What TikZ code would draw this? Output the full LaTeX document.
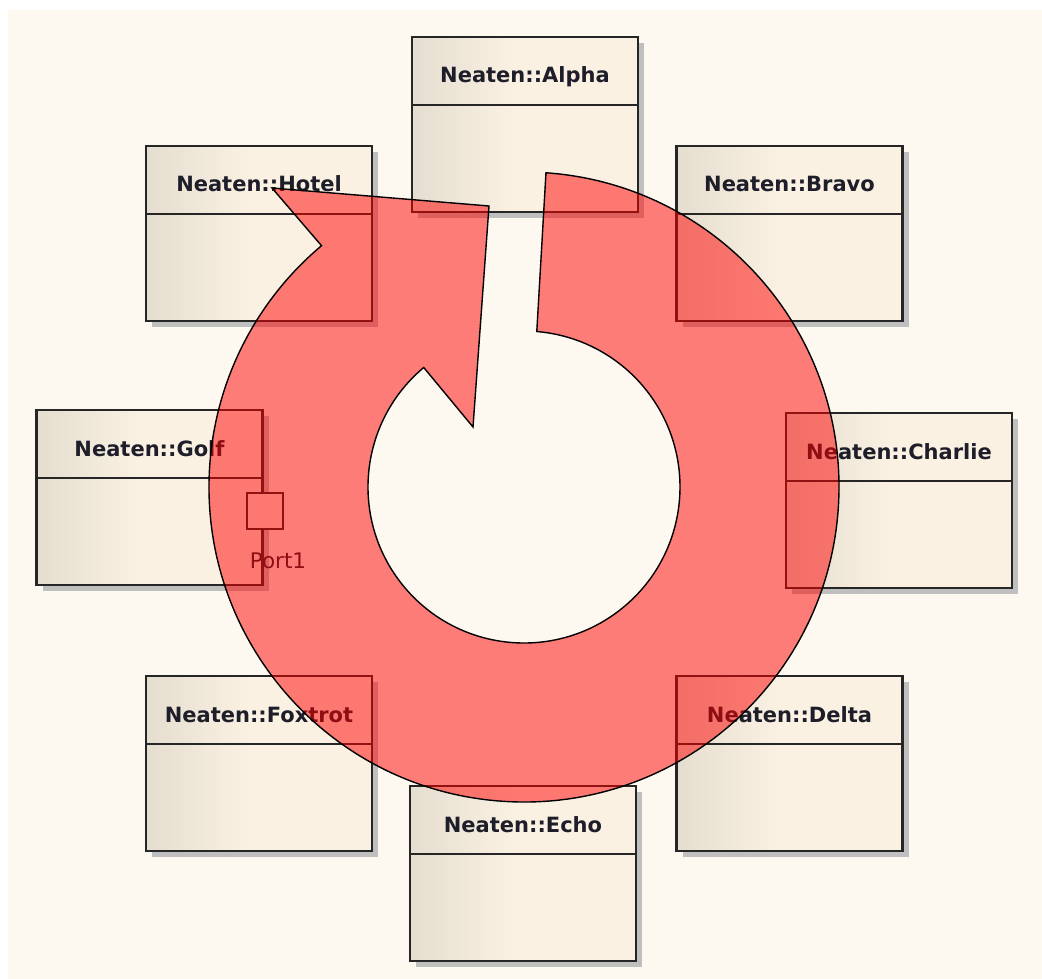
\documentclass[tikz,border=0pt]{standalone}
\usepackage{fontspec}
\setsansfont{DejaVu Sans}
\usetikzlibrary{shadows}
\definecolor{bg}{HTML}{FDF9F1}
\definecolor{boxL}{HTML}{E5DDCF}
\definecolor{boxR}{HTML}{FAF1E3}
\definecolor{txt}{HTML}{1E1E2A}
\definecolor{shd}{HTML}{BFBFBF}
\pgfdeclarehorizontalshading{boxshade}{100bp}{color(0bp)=(boxL); color(25bp)=(boxL); color(48bp)=(boxR); color(100bp)=(boxR)}
\tikzset{
  umlbox/.style={draw=black!85, line width=2.4pt, shade, shading=boxshade,
    minimum width=226pt, minimum height=175pt, inner sep=0pt, outer sep=0pt,
    general shadow={fill=shd, shadow xshift=6pt, shadow yshift=-6pt}},
  title/.style={font=\sffamily\bfseries\fontsize{21}{25}\selectfont, text=txt, anchor=base, inner sep=0pt},
  divider/.style={draw=black!85, line width=2.4pt},
  portbox/.style={draw=black!85, line width=2pt, fill=boxR, minimum size=36pt, inner sep=0pt, outer sep=0pt},
  portlabel/.style={font=\sffamily\fontsize{21.5}{25}\selectfont, text=txt, anchor=base, inner sep=0pt},
  ring/.style={draw=black, line width=1.4pt, fill=red, fill opacity=0.5, draw opacity=1}
}
\newcommand\umlbox[4]{%
  \node[umlbox] (#1) at (#2,{-(#3+87.5)}) {};
  \draw[divider] ([yshift=-68pt]#1.north west) -- ([yshift=-68pt]#1.north east);
  \node[title] (#1-title) at (#2,{-(#3+46)}) {#4};
}
\begin{document}
\begin{tikzpicture}[x=1pt,y=1pt]
\fill[white] (0,0) rectangle (1042,-979);
\fill[bg] (8,-10) rectangle (1042,-979);
\useasboundingbox (0,0) rectangle (1042,-979);

\umlbox{alpha}{525}{37}{Neaten::Alpha}
\umlbox{hotel}{259}{146}{Neaten::Hotel}
\umlbox{bravo}{789.5}{146}{Neaten::Bravo}
\umlbox{golf}{149.5}{410}{Neaten::Golf}
\umlbox{charlie}{899}{413}{Neaten::Charlie}
\umlbox{foxtrot}{259}{676}{Neaten::Foxtrot}
\umlbox{delta}{789.5}{676}{Neaten::Delta}
\umlbox{echo}{523}{786}{Neaten::Echo}

\node[portbox] (port1) at (265,-511) {};
\node[portlabel] (port1-label) at (278,-568) {Port1};

\draw[ring] (545.97,-172.77)
  arc[start angle=86, end angle=-230, radius=315pt]
  -- (272,-188) -- (489,-206) -- (473,-427) -- (423.72,-367.50)
  arc[start angle=130, end angle=445.3, radius=156pt]
  -- cycle;
\end{tikzpicture}
\end{document}
